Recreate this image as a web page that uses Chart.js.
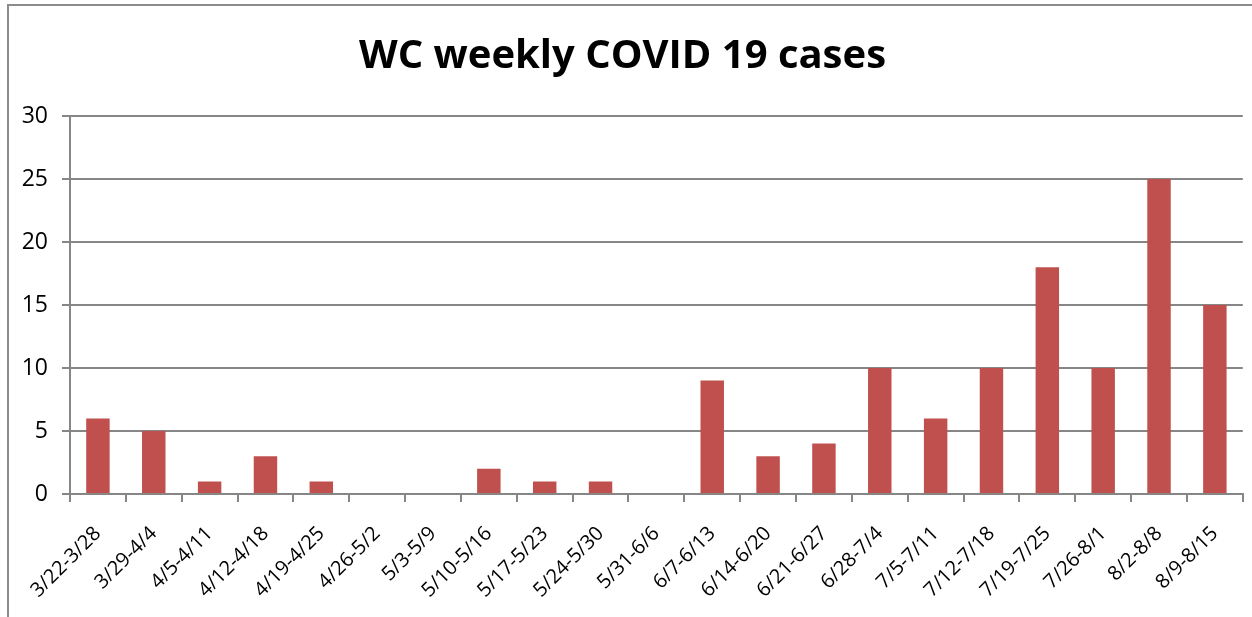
<!DOCTYPE html>
<html><head><meta charset="utf-8">
<script src="https://cdn.jsdelivr.net/npm/chart.js@4.4.1/dist/chart.umd.min.js"></script>
<style>
html,body{margin:0;padding:0;background:#fff;width:1252px;height:617px;overflow:hidden;}
#frame{position:absolute;left:7px;top:4px;width:1260px;height:630px;border:2px solid #8c8c8c;box-sizing:border-box;}
#wrap{position:absolute;left:0;top:0;width:1252px;height:617px;}
</style></head>
<body>
<div id="frame"></div>
<div id="wrap"><canvas id="c" width="1252" height="617"></canvas></div>
<script>
const categories = ["3/22-3/28","3/29-4/4","4/5-4/11","4/12-4/18","4/19-4/25","4/26-5/2","5/3-5/9","5/10-5/16","5/17-5/23","5/24-5/30","5/31-6/6","6/7-6/13","6/14-6/20","6/21-6/27","6/28-7/4","7/5-7/11","7/12-7/18","7/19-7/25","7/26-8/1","8/2-8/8","8/9-8/15"];
const cases = [6,5,1,3,1,0,0,2,1,1,0,9,3,4,10,6,10,18,10,25,15];
const titleText = "WC weekly COVID 19 cases";
const yTicks = [0,5,10,15,20,25,30];

const gridColor = "#868686";
new Chart(document.getElementById('c'), {
  type: 'bar',
  data: { labels: categories, datasets: [{ data: cases, backgroundColor: '#C0504D', borderWidth: 0, barPercentage: 0.42, categoryPercentage: 1.0 }] },
  options: {
    responsive: false, animation: false,
    layout: { autoPadding: false, padding: { left: 0, right: 7, top: 0, bottom: 0 } },
    plugins: {
      legend: { display: false }, tooltip: { enabled: false },
      title: { display: true, text: titleText, color: '#000', font: { family: 'Open Sans', size: 40, weight: 'bold', lineHeight: 1.2 }, padding: { top: 33, bottom: 35 } }
    },
    scales: {
      x: {
        offset: true,
        grid: { display: true, drawOnChartArea: false, drawTicks: true, tickLength: 8, color: gridColor, offset: true, lineWidth: 2 },
        border: { display: true, color: gridColor, width: 2 },
        ticks: { color: '#000', minRotation: 45, maxRotation: 45, autoSkip: false, padding: 20, font: { family: 'Open Sans', size: 20 } },
        afterFit: s => { s.height = 123; }
      },
      y: {
        min: 0, max: 30,
        afterBuildTicks: s => { s.ticks = yTicks.map(v => ({ value: v })); },
        grid: { color: gridColor, lineWidth: 2, tickLength: 8, drawTicks: true },
        border: { display: true, color: gridColor, width: 2 },
        ticks: { color: '#000', padding: 14, font: { family: 'Open Sans', size: 23 } },
        afterFit: s => { s.width = 70; }
      }
    }
  }
});
</script>
</body></html>
